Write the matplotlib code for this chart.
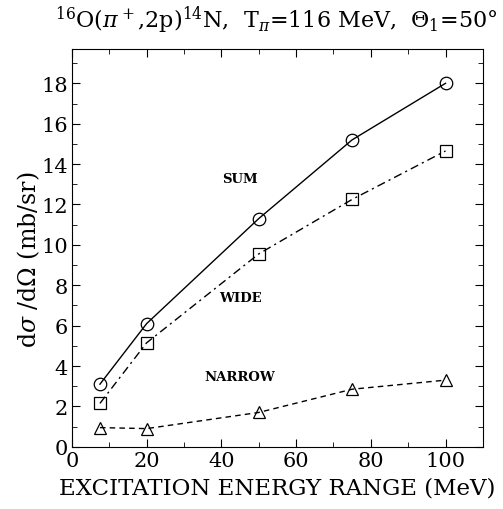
import matplotlib.pyplot as plt
from matplotlib.ticker import MultipleLocator

plt.rcParams['font.family'] = 'DejaVu Serif'
plt.rcParams['mathtext.fontset'] = 'dejavuserif'

# excitation energy range (MeV)
energy = [7.5, 20, 50, 75, 100]
sum_xs = [3.1, 6.1, 11.3, 15.2, 18.0]
wide_xs = [2.15, 5.15, 9.55, 12.25, 14.65]
narrow_xs = [0.95, 0.9, 1.7, 2.85, 3.3]

fig = plt.figure(figsize=(5.03, 5.10), dpi=100)
ax = fig.add_axes([0.143, 0.122, 0.817, 0.780])

mk = dict(markerfacecolor='none', markeredgecolor='black', markersize=9,
          markeredgewidth=0.9, color='black', linewidth=1.0)
ax.plot(energy, sum_xs, '-', marker='o', **mk)
ax.plot(energy, wide_xs, '-.', marker='s', dashes=(6, 3, 1.5, 3), **mk)
ax.plot(energy, narrow_xs, '--', marker='^', dashes=(4, 3), **mk)

ax.text(45, 13.3, 'SUM', ha='center', va='center', fontsize=9.5, fontweight='bold')
ax.text(45, 7.4, 'WIDE', ha='center', va='center', fontsize=9.5, fontweight='bold')
ax.text(45, 3.5, 'NARROW', ha='center', va='center', fontsize=9.5, fontweight='bold')

ax.set_xlim(0, 110)
ax.set_ylim(0, 19.7)
ax.xaxis.set_major_locator(MultipleLocator(20))
ax.xaxis.set_minor_locator(MultipleLocator(10))
ax.yaxis.set_major_locator(MultipleLocator(2))
ax.yaxis.set_minor_locator(MultipleLocator(1))
ax.tick_params(which='both', direction='in', top=True, right=True, labelsize=15)
ax.tick_params(which='major', length=6, pad=3)
ax.tick_params(which='minor', length=3.5)

ax.set_xlabel('EXCITATION ENERGY RANGE (MeV)', fontsize=16.5, labelpad=5)
fig.text(0.058, 0.49, r'd$\sigma$ /d$\Omega$ (mb/sr)', fontsize=17,
         rotation=90, ha='center', va='center')
fig.text(0.988, 0.945, r'$^{16}$O($\pi^+$,2p)$^{14}$N,  T$_\pi$=116 MeV,  $\Theta_1$=50°',
         fontsize=16, ha='right', va='baseline')

fig.savefig('out.png', dpi=100)
